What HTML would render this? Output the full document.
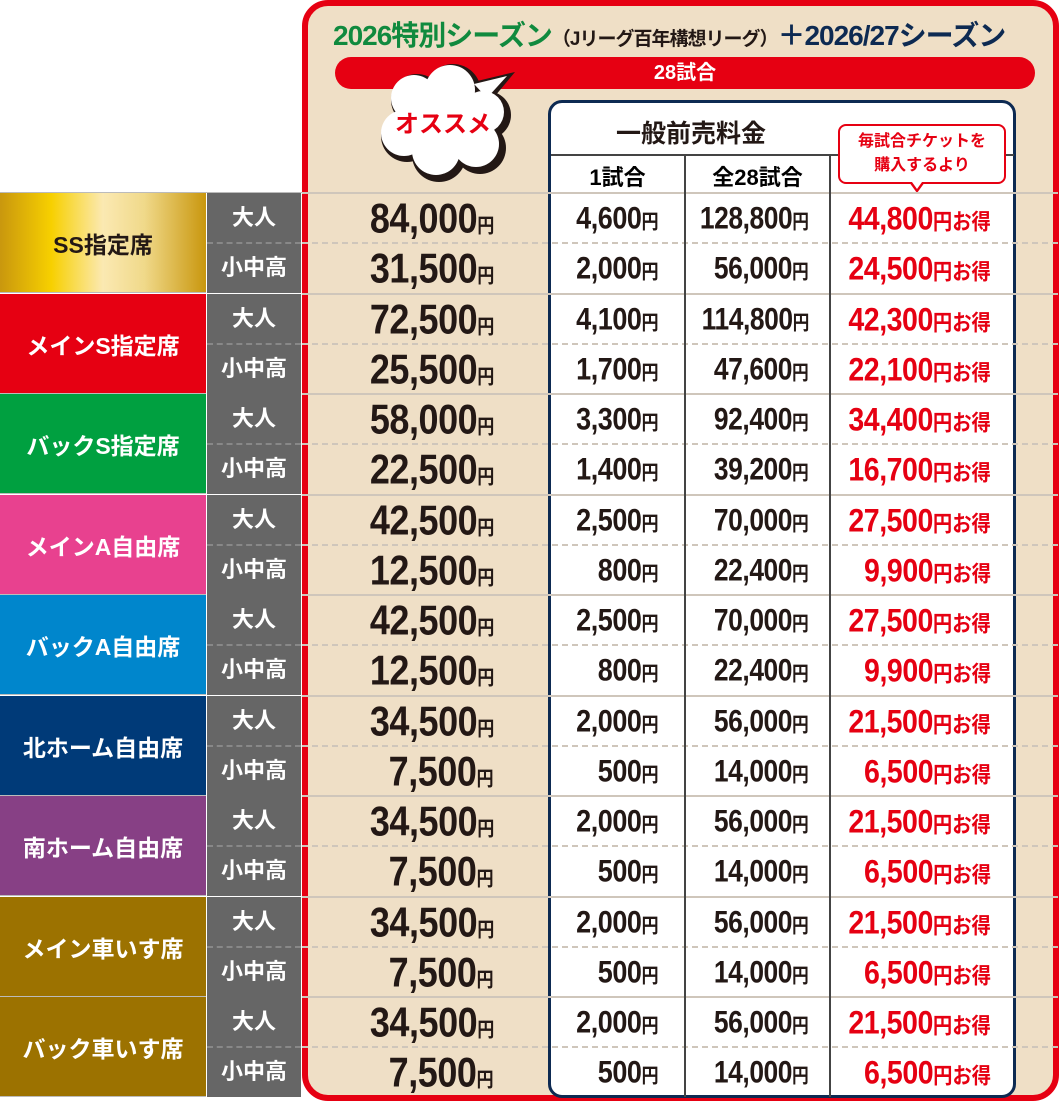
<!DOCTYPE html>
<html><head><meta charset="utf-8"><style>
*{margin:0;padding:0;box-sizing:border-box}
body{width:1061px;height:1102px;background:#fff;position:relative;overflow:hidden;font-family:"Liberation Sans","Noto Sans CJK JP",sans-serif}
.abs{position:absolute}
.panel{left:302px;top:0;width:757px;height:1101px;background:#efdfc6;border:6px solid #e60012;border-radius:26px}
.title{left:333px;top:14px;font-weight:bold;font-size:28px;white-space:nowrap;letter-spacing:-1px}
.pill{left:335px;top:57px;width:700px;height:32px;background:#e60012;border-radius:16px;color:#fff;font-weight:bold;font-size:20px;text-align:center;line-height:32px}
.tbl{left:548px;top:100px;width:468px;height:998px;background:#fff;border:3px solid #0d2a52;border-radius:14px}
.cat{left:0;width:206px;height:100px;display:flex;align-items:center;justify-content:center;color:#fff;font-weight:bold;font-size:23px;border-bottom:1px solid #bbb}
.sub{left:207px;width:94px;height:50px;background:#666;color:#fff;font-weight:bold;font-size:22px;text-align:center;line-height:50px}
.num{font-weight:bold;color:#231815;white-space:nowrap;text-align:right;transform-origin:right center;letter-spacing:-0.5px;margin-top:3px}
.num small{font-size:19px;font-weight:bold;letter-spacing:0}
.big{font-size:40px;right:567px;transform:scale(0.9,1.05)}
.c1{font-size:30px;right:402px;transform:scale(0.9,1.05)}
.c2{font-size:30px;right:252px;transform:scale(0.88,1.05)}
.c3{font-size:31px;right:70px;color:#e60012;transform:scale(0.92,1.05)}
.c3 small{font-size:21px}
.ln{left:302px;width:756px;height:0;border-top:2px solid #cfc6bb}
.dl{left:302px;width:756px;height:0;border-top:2px dashed #cfc6bb}
.sd{left:207px;width:94px;height:0;border-top:2px dashed #888}
.vl{top:155px;width:2px;height:942px;background:#444}
</style></head><body>
<div class="abs panel"></div>
<div class="abs title"><span style="color:#108a3e">2026特別シーズン</span><span style="font-size:19px;color:#231815">（Jリーグ百年構想リーグ）</span><span style="color:#0d2a52">＋2026/27シーズン</span></div>
<div class="abs pill">28試合</div>
<svg class="abs" style="left:375px;top:60px" width="150" height="125" viewBox="0 0 150 125">
<g fill="#231815"><circle cx="42" cy="40" r="26"/><circle cx="78" cy="32" r="28"/><circle cx="112" cy="55" r="24"/><circle cx="32" cy="76" r="26"/><circle cx="64" cy="95" r="27"/><circle cx="105" cy="88" r="26"/><polygon points="98,22 140,12 115,42"/></g>
<g fill="#fff"><circle cx="39" cy="38" r="23"/><circle cx="75" cy="30" r="25"/><circle cx="108" cy="52" r="21"/><circle cx="29" cy="73" r="23"/><circle cx="61" cy="91" r="24"/><circle cx="101" cy="84" r="23"/><circle cx="70" cy="62" r="32"/><polygon points="99,24 132,16 112,38"/></g>
<text x="68" y="72" text-anchor="middle" font-family="Liberation Sans,Noto Sans CJK JP,sans-serif" font-weight="bold" font-size="24" fill="#e60012">オススメ</text>
</svg>
<div class="abs tbl"></div>
<div class="abs" style="left:551px;top:114px;width:280px;text-align:center;font-weight:bold;font-size:25px;color:#231815">一般前売料金</div>
<div class="abs" style="left:551px;top:154px;width:463px;border-top:2px solid #444"></div>
<div class="abs" style="left:551px;top:160px;width:133px;text-align:center;font-weight:bold;font-size:22px">1試合</div>
<div class="abs" style="left:686px;top:160px;width:143px;text-align:center;font-weight:bold;font-size:22px">全28試合</div>
<div class="abs" style="left:838px;top:124px;width:168px;height:60px;background:#fff;border:2px solid #e60012;border-radius:8px;color:#e60012;font-weight:bold;font-size:16px;text-align:center;line-height:24px;padding-top:4px">毎試合チケットを<br>購入するより</div>
<svg class="abs" style="left:909px;top:182px" width="16" height="12"><polygon points="0,0 16,0 8,11" fill="#e60012"/><polygon points="3,0 13,0 8,7" fill="#fff"/></svg>
<div class="abs" style="left:0;top:192px;width:302px;border-top:1px solid #bbb"></div>

<div class="abs cat" style="top:193px;background:linear-gradient(90deg,#c9970e,#f7d000 25%,#fbe9b2 50%,#f0d98a 70%,#c9970e);color:#231815">SS指定席</div>
<div class="abs cat" style="top:294px;background:#e60012">メインS指定席</div>
<div class="abs cat" style="top:394px;background:#00a040">バックS指定席</div>
<div class="abs cat" style="top:495px;background:#e8418f">メインA自由席</div>
<div class="abs cat" style="top:595px;background:#0086cc">バックA自由席</div>
<div class="abs cat" style="top:696px;background:#003a78">北ホーム自由席</div>
<div class="abs cat" style="top:796px;background:#874085">南ホーム自由席</div>
<div class="abs cat" style="top:897px;background:#9c7200">メイン車いす席</div>
<div class="abs cat" style="top:997px;background:#9c7200">バック車いす席</div>

<div class="abs sub" style="top:193px">大人</div><div class="abs sub" style="top:243px">小中高</div>
<div class="abs sub" style="top:294px">大人</div><div class="abs sub" style="top:344px">小中高</div>
<div class="abs sub" style="top:394px">大人</div><div class="abs sub" style="top:444px">小中高</div>
<div class="abs sub" style="top:495px">大人</div><div class="abs sub" style="top:545px">小中高</div>
<div class="abs sub" style="top:595px">大人</div><div class="abs sub" style="top:645px">小中高</div>
<div class="abs sub" style="top:696px">大人</div><div class="abs sub" style="top:746px">小中高</div>
<div class="abs sub" style="top:796px">大人</div><div class="abs sub" style="top:846px">小中高</div>
<div class="abs sub" style="top:897px">大人</div><div class="abs sub" style="top:947px">小中高</div>
<div class="abs sub" style="top:997px">大人</div><div class="abs sub" style="top:1047px">小中高</div>

<div class="abs ln" style="top:192px"></div>
<div class="abs dl" style="top:242px"></div><div class="abs sd" style="top:242px"></div>
<div class="abs ln" style="top:293px"></div>
<div class="abs dl" style="top:343px"></div><div class="abs sd" style="top:343px"></div>
<div class="abs ln" style="top:393px"></div>
<div class="abs dl" style="top:443px"></div><div class="abs sd" style="top:443px"></div>
<div class="abs ln" style="top:494px"></div>
<div class="abs dl" style="top:544px"></div><div class="abs sd" style="top:544px"></div>
<div class="abs ln" style="top:594px"></div>
<div class="abs dl" style="top:644px"></div><div class="abs sd" style="top:644px"></div>
<div class="abs ln" style="top:695px"></div>
<div class="abs dl" style="top:745px"></div><div class="abs sd" style="top:745px"></div>
<div class="abs ln" style="top:795px"></div>
<div class="abs dl" style="top:845px"></div><div class="abs sd" style="top:845px"></div>
<div class="abs ln" style="top:896px"></div>
<div class="abs dl" style="top:946px"></div><div class="abs sd" style="top:946px"></div>
<div class="abs ln" style="top:996px"></div>
<div class="abs dl" style="top:1046px"></div><div class="abs sd" style="top:1046px"></div>

<div class="abs vl" style="left:684px"></div><div class="abs vl" style="left:829px"></div>

<div class="abs num big" style="top:194px">84,000<small>円</small></div><div class="abs num c1" style="top:199px">4,600<small>円</small></div><div class="abs num c2" style="top:199px">128,800<small>円</small></div><div class="abs num c3" style="top:198px">44,800<small>円お得</small></div>
<div class="abs num big" style="top:244px">31,500<small>円</small></div><div class="abs num c1" style="top:249px">2,000<small>円</small></div><div class="abs num c2" style="top:249px">56,000<small>円</small></div><div class="abs num c3" style="top:248px">24,500<small>円お得</small></div>
<div class="abs num big" style="top:295px">72,500<small>円</small></div><div class="abs num c1" style="top:300px">4,100<small>円</small></div><div class="abs num c2" style="top:300px">114,800<small>円</small></div><div class="abs num c3" style="top:299px">42,300<small>円お得</small></div>
<div class="abs num big" style="top:345px">25,500<small>円</small></div><div class="abs num c1" style="top:350px">1,700<small>円</small></div><div class="abs num c2" style="top:350px">47,600<small>円</small></div><div class="abs num c3" style="top:349px">22,100<small>円お得</small></div>
<div class="abs num big" style="top:395px">58,000<small>円</small></div><div class="abs num c1" style="top:400px">3,300<small>円</small></div><div class="abs num c2" style="top:400px">92,400<small>円</small></div><div class="abs num c3" style="top:399px">34,400<small>円お得</small></div>
<div class="abs num big" style="top:445px">22,500<small>円</small></div><div class="abs num c1" style="top:450px">1,400<small>円</small></div><div class="abs num c2" style="top:450px">39,200<small>円</small></div><div class="abs num c3" style="top:449px">16,700<small>円お得</small></div>
<div class="abs num big" style="top:496px">42,500<small>円</small></div><div class="abs num c1" style="top:501px">2,500<small>円</small></div><div class="abs num c2" style="top:501px">70,000<small>円</small></div><div class="abs num c3" style="top:500px">27,500<small>円お得</small></div>
<div class="abs num big" style="top:546px">12,500<small>円</small></div><div class="abs num c1" style="top:551px">800<small>円</small></div><div class="abs num c2" style="top:551px">22,400<small>円</small></div><div class="abs num c3" style="top:550px">9,900<small>円お得</small></div>
<div class="abs num big" style="top:596px">42,500<small>円</small></div><div class="abs num c1" style="top:601px">2,500<small>円</small></div><div class="abs num c2" style="top:601px">70,000<small>円</small></div><div class="abs num c3" style="top:600px">27,500<small>円お得</small></div>
<div class="abs num big" style="top:646px">12,500<small>円</small></div><div class="abs num c1" style="top:651px">800<small>円</small></div><div class="abs num c2" style="top:651px">22,400<small>円</small></div><div class="abs num c3" style="top:650px">9,900<small>円お得</small></div>
<div class="abs num big" style="top:697px">34,500<small>円</small></div><div class="abs num c1" style="top:702px">2,000<small>円</small></div><div class="abs num c2" style="top:702px">56,000<small>円</small></div><div class="abs num c3" style="top:701px">21,500<small>円お得</small></div>
<div class="abs num big" style="top:747px">7,500<small>円</small></div><div class="abs num c1" style="top:752px">500<small>円</small></div><div class="abs num c2" style="top:752px">14,000<small>円</small></div><div class="abs num c3" style="top:751px">6,500<small>円お得</small></div>
<div class="abs num big" style="top:797px">34,500<small>円</small></div><div class="abs num c1" style="top:802px">2,000<small>円</small></div><div class="abs num c2" style="top:802px">56,000<small>円</small></div><div class="abs num c3" style="top:801px">21,500<small>円お得</small></div>
<div class="abs num big" style="top:847px">7,500<small>円</small></div><div class="abs num c1" style="top:852px">500<small>円</small></div><div class="abs num c2" style="top:852px">14,000<small>円</small></div><div class="abs num c3" style="top:851px">6,500<small>円お得</small></div>
<div class="abs num big" style="top:898px">34,500<small>円</small></div><div class="abs num c1" style="top:903px">2,000<small>円</small></div><div class="abs num c2" style="top:903px">56,000<small>円</small></div><div class="abs num c3" style="top:902px">21,500<small>円お得</small></div>
<div class="abs num big" style="top:948px">7,500<small>円</small></div><div class="abs num c1" style="top:953px">500<small>円</small></div><div class="abs num c2" style="top:953px">14,000<small>円</small></div><div class="abs num c3" style="top:952px">6,500<small>円お得</small></div>
<div class="abs num big" style="top:998px">34,500<small>円</small></div><div class="abs num c1" style="top:1003px">2,000<small>円</small></div><div class="abs num c2" style="top:1003px">56,000<small>円</small></div><div class="abs num c3" style="top:1002px">21,500<small>円お得</small></div>
<div class="abs num big" style="top:1048px">7,500<small>円</small></div><div class="abs num c1" style="top:1053px">500<small>円</small></div><div class="abs num c2" style="top:1053px">14,000<small>円</small></div><div class="abs num c3" style="top:1052px">6,500<small>円お得</small></div>
</body></html>
